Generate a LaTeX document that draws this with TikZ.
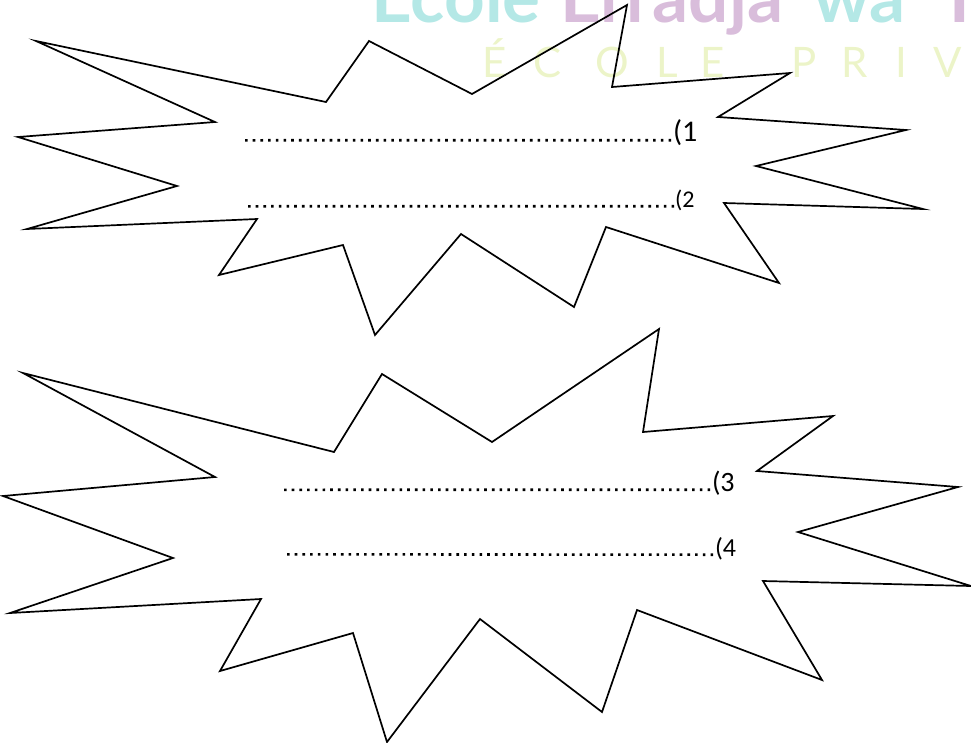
\documentclass[tikz,border=0pt]{standalone}
\usepackage{fontspec}
\setmainfont{Carlito}
\newfontfamily\wmfont{Lato}
\definecolor{wmcyan}{RGB}{180,232,230}
\definecolor{wmpink}{RGB}{217,189,219}
\definecolor{wmlime}{RGB}{236,244,200}
\begin{document}
\begin{tikzpicture}[x=1pt,y=-1pt,
  burst/.style={draw=black,line width=1.7pt,line join=miter},
  dotrow/.style={line width=2.6pt,dash pattern=on 2.6pt off 5.1pt},
  lbl/.style={anchor=base west,inner sep=0pt,outer sep=0pt},
  wmbig/.style={anchor=base west,inner sep=0pt,font=\wmfont\bfseries\fontsize{71}{80}\selectfont},
  wmsmall/.style={anchor=base,inner sep=0pt,text=wmlime,font=\wmfont\fontsize{42}{50}\selectfont}]
\useasboundingbox (0,0) rectangle (971,742);
\clip (0,0) rectangle (971,742);
% watermark
\node[wmbig,text=wmcyan] (wa) at (371,22) {Ecole};
\node[wmbig,text=wmpink] (wb) at (560,22) {Erradja};
\node[wmbig,text=wmcyan] (wc) at (813,22) {wa};
\node[wmbig,text=wmpink] (wd) at (938,22) {Ta};
\node[wmsmall] (e1) at (495,77) {É};
\node[wmsmall] (e2) at (548,77) {C};
\node[wmsmall] (e3) at (612,77) {O};
\node[wmsmall] (e4) at (667,77) {L};
\node[wmsmall] (e5) at (713,77) {E};
\node[wmsmall] (e6) at (804,77) {P};
\node[wmsmall] (e7) at (855,77) {R};
\node[wmsmall] (e8) at (901,77) {I};
\node[wmsmall] (e9) at (948,77) {V};
% upper burst
\draw[burst] (36,41) -- (326,102) -- (369,41) -- (472,94) -- (627,5) -- (612,87)
  -- (790,73) -- (718,117) -- (906,130) -- (756,166) -- (923,209) -- (724,203)
  -- (779,283) -- (606,227) -- (574,307) -- (461,234) -- (375,335) -- (343,245)
  -- (219,275) -- (257,219) -- (27,229) -- (177,186) -- (18,137) -- (215,122) -- cycle;
% lower burst
\draw[burst] (23,373) -- (334,452) -- (382,374) -- (492,442) -- (659,329) -- (643,432)
  -- (833,416) -- (757,471) -- (958,487) -- (798,532) -- (971,586) -- (763,581)
  -- (822,680) -- (637,610) -- (602,712) -- (480,619) -- (387,742) -- (353,633)
  -- (220,671) -- (261,599) -- (10,613) -- (173,558) -- (3,496) -- (215,477) -- cycle;
% labels
\node[lbl,font=\fontsize{30}{36}\selectfont] (l1) at (673,141.5) {(1};
\node[lbl,font=\fontsize{24}{29}\selectfont] (l2) at (675,207.5) {(2};
\node[lbl,font=\fontsize{28}{33}\selectfont] (l3) at (712,491) {(3};
\node[lbl,font=\fontsize{26}{31}\selectfont] (l4) at (715,556) {(4};
\coordinate (d1) at (245,140.3);
\coordinate (d2) at (248,206.3);
\coordinate (d3) at (284,489.8);
\coordinate (d4) at (287,554.3);
\draw[dotrow] (d1) -- ([xshift=-1pt,yshift=1.3pt]l1.base west);
\draw[dotrow] (d2) -- ([xshift=-1pt,yshift=1.3pt]l2.base west);
\draw[dotrow] (d3) -- ([xshift=-1pt,yshift=1.3pt]l3.base west);
\draw[dotrow] (d4) -- ([xshift=-1pt,yshift=1.3pt]l4.base west);
\end{tikzpicture}
\end{document}
